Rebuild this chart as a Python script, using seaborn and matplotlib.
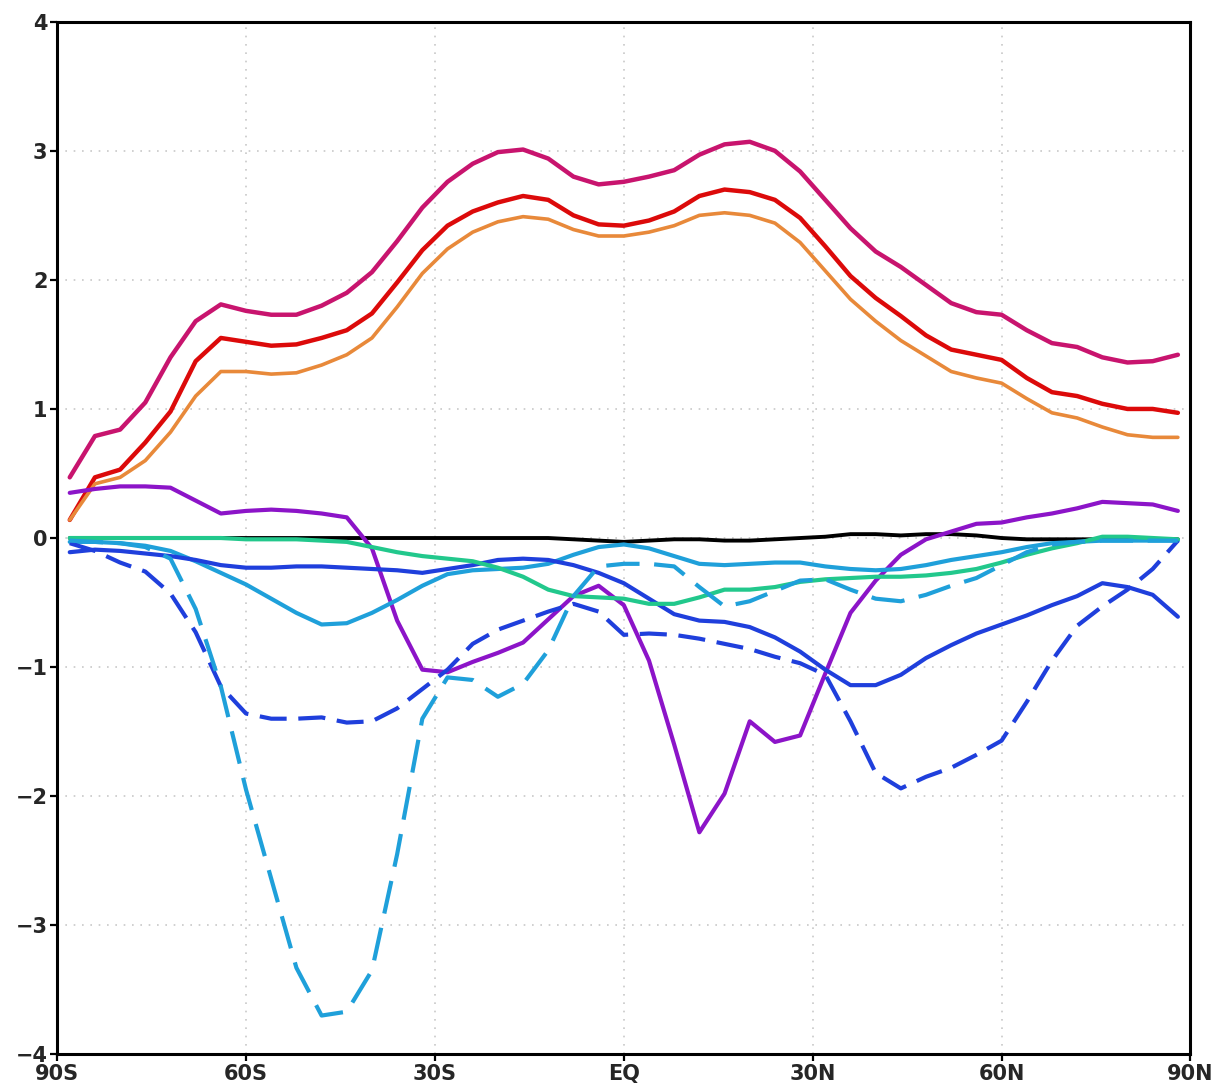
import numpy as np
import pandas as pd
import matplotlib
matplotlib.use("Agg")
import matplotlib.pyplot as plt
import seaborn as sns

# ---- data (zonal means at 4-degree latitude steps, 88S..88N) ----
lat = [-88, -84, -80, -76, -72, -68, -64, -60, -56, -52, -48, -44, -40, -36, -32,
       -28, -24, -20, -16, -12, -8, -4, 0, 4, 8, 12, 16, 20, 24, 28,
       32, 36, 40, 44, 48, 52, 56, 60, 64, 68, 72, 76, 80, 84, 88]

magenta = [0.47, 0.79, 0.84, 1.05, 1.40, 1.68, 1.81, 1.76, 1.73, 1.73, 1.80, 1.90, 2.06, 2.30, 2.56,
           2.76, 2.90, 2.99, 3.01, 2.94, 2.80, 2.74, 2.76, 2.80, 2.85, 2.97, 3.05, 3.07, 3.00, 2.84,
           2.62, 2.40, 2.22, 2.10, 1.96, 1.82, 1.75, 1.73, 1.61, 1.51, 1.48, 1.40, 1.36, 1.37, 1.42]

red = [0.14, 0.47, 0.53, 0.74, 0.98, 1.37, 1.55, 1.52, 1.49, 1.50, 1.55, 1.61, 1.74, 1.98, 2.23,
       2.42, 2.53, 2.60, 2.65, 2.62, 2.50, 2.43, 2.42, 2.46, 2.53, 2.65, 2.70, 2.68, 2.62, 2.48,
       2.26, 2.03, 1.86, 1.72, 1.57, 1.46, 1.42, 1.38, 1.24, 1.13, 1.10, 1.04, 1.00, 1.00, 0.97]

orange = [0.14, 0.42, 0.47, 0.60, 0.82, 1.10, 1.29, 1.29, 1.27, 1.28, 1.34, 1.42, 1.55, 1.79, 2.05,
          2.24, 2.37, 2.45, 2.49, 2.47, 2.39, 2.34, 2.34, 2.37, 2.42, 2.50, 2.52, 2.50, 2.44, 2.29,
          2.07, 1.85, 1.68, 1.53, 1.41, 1.29, 1.24, 1.20, 1.08, 0.97, 0.93, 0.86, 0.80, 0.78, 0.78]

purple = [0.35, 0.38, 0.40, 0.40, 0.39, 0.29, 0.19, 0.21, 0.22, 0.21, 0.19, 0.16, -0.08, -0.64, -1.02,
          -1.04, -0.96, -0.89, -0.81, -0.63, -0.45, -0.37, -0.52, -0.95, -1.60, -2.28, -1.98, -1.42, -1.58, -1.53,
          -1.05, -0.58, -0.33, -0.13, -0.01, 0.05, 0.11, 0.12, 0.16, 0.19, 0.23, 0.28, 0.27, 0.26, 0.21]

black = [0.0, 0.0, 0.0, 0.0, 0.0, 0.0, 0.0, 0.0, 0.0, 0.0, 0.0, 0.0, 0.0, 0.0, 0.0,
         0.0, 0.0, 0.0, 0.0, 0.0, -0.01, -0.02, -0.03, -0.02, -0.01, -0.01, -0.02, -0.02, -0.01, 0.0,
         0.01, 0.03, 0.03, 0.02, 0.03, 0.03, 0.02, 0.0, -0.01, -0.01, -0.01, -0.01, -0.01, -0.01, -0.01]

green = [0.0, 0.0, 0.0, 0.0, 0.0, 0.0, 0.0, -0.01, -0.01, -0.01, -0.02, -0.03, -0.07, -0.11, -0.14,
         -0.16, -0.18, -0.23, -0.30, -0.40, -0.45, -0.46, -0.47, -0.51, -0.51, -0.46, -0.40, -0.40, -0.38, -0.34,
         -0.32, -0.31, -0.30, -0.30, -0.29, -0.27, -0.24, -0.19, -0.13, -0.08, -0.04, 0.01, 0.01, 0.0, -0.01]

lightblue = [-0.03, -0.03, -0.04, -0.06, -0.10, -0.18, -0.27, -0.36, -0.47, -0.58, -0.67, -0.66, -0.58, -0.48, -0.37,
             -0.28, -0.25, -0.24, -0.23, -0.20, -0.13, -0.07, -0.05, -0.08, -0.14, -0.20, -0.21, -0.20, -0.19, -0.19,
             -0.22, -0.24, -0.25, -0.24, -0.21, -0.17, -0.14, -0.11, -0.07, -0.04, -0.03, -0.02, -0.02, -0.02, -0.02]

blue = [-0.11, -0.09, -0.10, -0.12, -0.14, -0.17, -0.21, -0.23, -0.23, -0.22, -0.22, -0.23, -0.24, -0.25, -0.27,
        -0.24, -0.21, -0.17, -0.16, -0.17, -0.21, -0.27, -0.35, -0.47, -0.59, -0.64, -0.65, -0.69, -0.77, -0.88,
        -1.02, -1.14, -1.14, -1.06, -0.93, -0.83, -0.74, -0.67, -0.60, -0.52, -0.45, -0.35, -0.38, -0.44, -0.61]

blue_dash = [-0.04, -0.10, -0.19, -0.26, -0.43, -0.73, -1.15, -1.36, -1.40, -1.40, -1.39, -1.43, -1.42, -1.32, -1.17,
             -1.02, -0.82, -0.71, -0.64, -0.57, -0.51, -0.57, -0.75, -0.74, -0.75, -0.78, -0.82, -0.86, -0.92, -0.97,
             -1.06, -1.42, -1.82, -1.94, -1.85, -1.78, -1.68, -1.57, -1.27, -0.95, -0.68, -0.53, -0.40, -0.24, -0.02]

lightblue_dash = [-0.02, -0.03, -0.04, -0.07, -0.16, -0.55, -1.15, -1.95, -2.64, -3.33, -3.70, -3.67, -3.35, -2.45, -1.40,
                  -1.08, -1.10, -1.23, -1.13, -0.87, -0.45, -0.22, -0.20, -0.20, -0.22, -0.38, -0.53, -0.49, -0.41, -0.33,
                  -0.32, -0.40, -0.47, -0.49, -0.44, -0.37, -0.31, -0.21, -0.11, -0.05, -0.03, -0.02, -0.02, -0.02, -0.02]

xticks = [-90, -60, -30, 0, 30, 60, 90]
xticklabels = ["90S", "60S", "30S", "EQ", "30N", "60N", "90N"]
yticks = [-4, -3, -2, -1, 0, 1, 2, 3, 4]

# ---- plotting ----
sns.set_style("white")
plt.rcParams["font.family"] = ["DejaVu Sans"]

fig = plt.figure(figsize=(12.16, 10.88), dpi=100)
ax = fig.add_axes([0.047, 0.031, 0.932, 0.949])

series = [
    ("black", black, "#000000", 2.8, None),
    ("magenta", magenta, "#c8146e", 3.2, None),
    ("red", red, "#dc0a0a", 3.2, None),
    ("orange", orange, "#e8893a", 2.6, None),
    ("purple", purple, "#8c14c8", 3.0, None),
    ("lightblue", lightblue, "#1fa0da", 3.0, None),
    ("blue", blue, "#1f3fdc", 3.0, None),
    ("green", green, "#22c88c", 3.0, None),
    ("blue_dash", blue_dash, "#1f3fdc", 3.0, (6.5, 2.8)),
    ("lightblue_dash", lightblue_dash, "#1fa0da", 3.0, (8, 3.5)),
]

for name, vals, col, lw, dash in series:
    df = pd.DataFrame({"lat": lat, "val": vals})
    sns.lineplot(data=df, x="lat", y="val", color=col, linewidth=lw, ax=ax,
                 solid_joinstyle="round", dash_capstyle="butt")
    line = ax.lines[-1]
    if dash is not None:
        line.set_dashes(dash)

ax.set_xlim(-90, 90)
ax.set_ylim(-4, 4)
ax.set_xticks(xticks)
ax.set_xticklabels(xticklabels)
ax.set_yticks(yticks)
ax.set_xlabel("")
ax.set_ylabel("")

ax.grid(True, color="#c8c8c8", linestyle=(0, (1, 4)), linewidth=1.2)
ax.set_axisbelow(True)

for s in ax.spines.values():
    s.set_visible(True)
    s.set_color("black")
    s.set_linewidth(2.2)

ax.tick_params(axis="both", direction="out", length=5, width=1.6, color="black",
               labelsize=15, pad=2, bottom=True, left=True)
for lab in ax.get_xticklabels() + ax.get_yticklabels():
    lab.set_fontweight("bold")

fig.savefig("out.png", dpi=100, facecolor="white")
